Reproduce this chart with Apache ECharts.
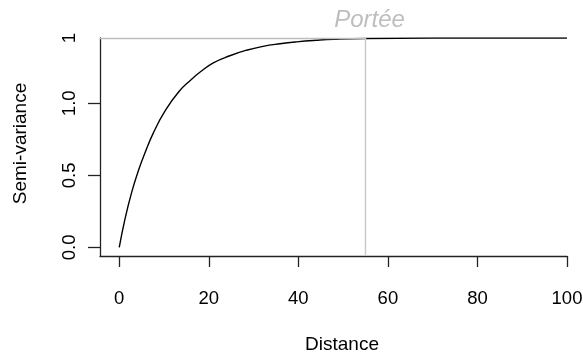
<!DOCTYPE html>
<html>
<head>
<meta charset="utf-8">
<style>
  html, body { margin: 0; padding: 0; background: #fff; }
  #chart { width: 583px; height: 354px; }
</style>
<script src="https://cdn.jsdelivr.net/npm/echarts@6/dist/echarts.min.js"></script>
</head>
<body>
<div id="chart"></div>
<script>
var distances = [0, 1.3, 2.8, 4.3, 5.8, 7.7, 10.3, 13.3, 16.1, 18, 21, 24.7, 28.4, 32.1, 35.9, 39.6, 44, 48, 55, 70, 100];
var semiVariance = [0, 0.20, 0.385, 0.535, 0.66, 0.80, 0.95, 1.08, 1.165, 1.215, 1.28, 1.33, 1.368, 1.395, 1.413, 1.426, 1.437, 1.444, 1.45, 1.453, 1.453];

var xTicks = [0, 20, 40, 60, 80, 100];
var yTicks = [0, 0.5, 1.0];
var yTickLabels = ['0.0', '0.5', '1.0'];

var sill = 1.453;
var sillLabel = '1';
var range = 55;
var rangeLabel = 'Portée';

var xMin = -4.3, xMax = 100;
var yMin = -0.06;

var font = 'Liberation Sans, Arial, sans-serif';

var points = distances.map(function (d, i) { return [d, semiVariance[i]]; });

var dom = document.getElementById('chart');
var myChart = echarts.init(dom, null, { renderer: 'canvas' });

var option = {
    animation: false,
    backgroundColor: '#fff',
    grid: {
        left: 100,
        top: 38,
        right: 16,
        bottom: 98,
        outerBoundsMode: 'none'
    },
    xAxis: {
        type: 'value',
        min: xMin,
        max: xMax,
        name: 'Distance',
        nameLocation: 'middle',
        nameGap: 79,
        nameTextStyle: { fontFamily: font, fontSize: 19, color: '#000', padding: [0, 0, 0, 17] },
        splitLine: { show: false },
        axisLine: { onZero: false, lineStyle: { color: '#222', width: 1.3 } },
        axisTick: { length: 11, customValues: xTicks, lineStyle: { color: '#222', width: 1.3 } },
        axisLabel: {
            customValues: xTicks,
            margin: 33,
            fontFamily: font,
            fontSize: 18.5,
            color: '#000'
        }
    },
    yAxis: {
        type: 'value',
        min: yMin,
        max: sill,
        name: 'Semi-variance',
        nameLocation: 'middle',
        nameGap: 70,
        nameTextStyle: { fontFamily: font, fontSize: 19, color: '#000', padding: [0, 0, 0, 7] },
        splitLine: { show: false },
        axisLine: { show: true, onZero: false, lineStyle: { color: '#222', width: 1.3 } },
        axisTick: { show: true, length: 12, customValues: yTicks, lineStyle: { color: '#222', width: 1.3 } },
        axisLabel: {
            customValues: yTicks.concat([sill]),
            rotate: 90,
            margin: 21,
            fontFamily: font,
            fontSize: 18.5,
            color: '#000',
            formatter: function (v) {
                if (v === sill) return sillLabel;
                var i = yTicks.indexOf(v);
                return i >= 0 ? yTickLabels[i] : '';
            }
        }
    },
    series: [
        {
            type: 'line',
            data: points,
            smooth: true,
            showSymbol: false,
            lineStyle: { color: '#000', width: 1.4 },
            markLine: {
                silent: true,
                symbol: 'none',
                animation: false,
                data: [
                    [
                        { coord: [xMin, sill], lineStyle: { color: '#bebebe', width: 1.4, type: 'solid' }, label: { show: false } },
                        { coord: [range, sill] }
                    ],
                    [
                        {
                            coord: [range, yMin],
                            lineStyle: { color: '#c8c8c8', width: 1.4, type: 'solid' },
                            label: {
                                show: true,
                                position: 'end',
                                formatter: rangeLabel,
                                distance: 6,
                                offset: [4, 0],
                                fontFamily: font,
                                fontStyle: 'italic',
                                fontSize: 24,
                                color: '#bebebe'
                            }
                        },
                        { coord: [range, sill] }
                    ]
                ]
            }
        }
    ]
};

if (option && typeof option === 'object') {
    myChart.setOption(option);
}

window.addEventListener('resize', myChart.resize);
</script>
</body>
</html>
